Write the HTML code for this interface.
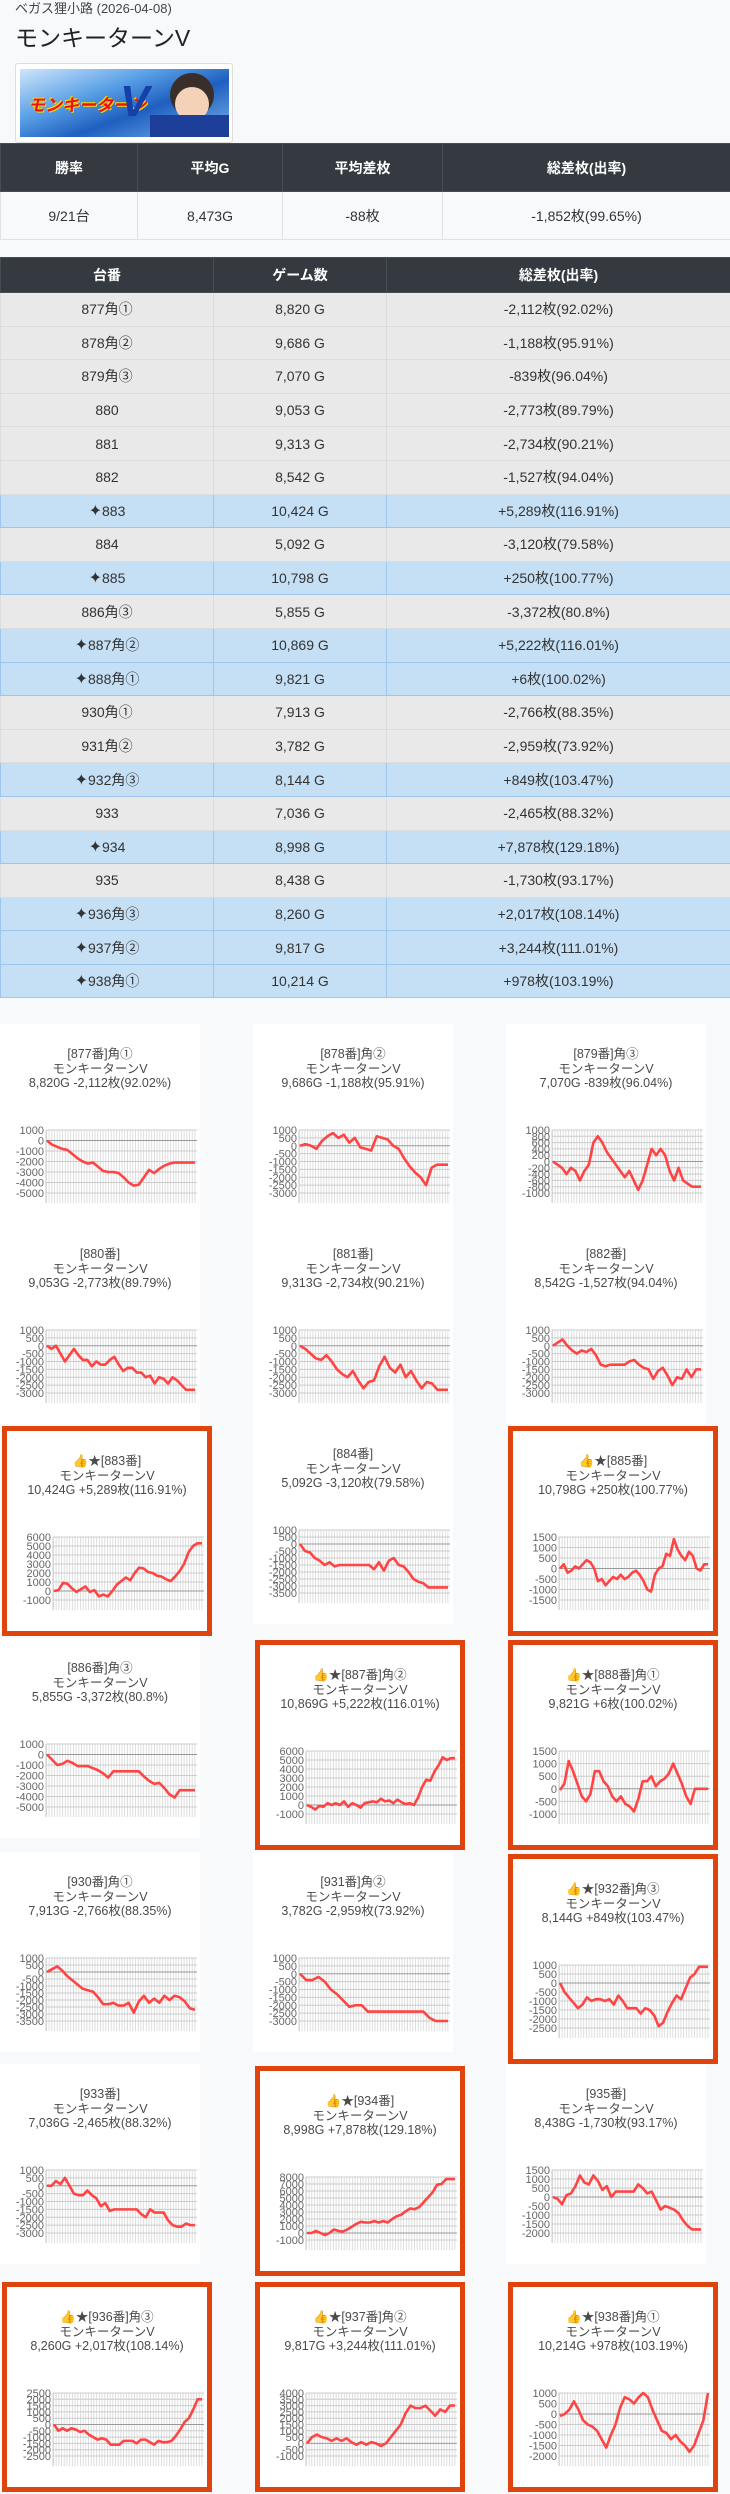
<!DOCTYPE html>
<html><head><meta charset="utf-8">
<style>
*{margin:0;padding:0;box-sizing:content-box}
body{width:730px;height:2494px;background:#f8f9fa;position:relative;font-family:"Liberation Sans","Noto Sans CJK JP",sans-serif;color:#333;overflow:hidden}
.sub{position:absolute;left:15px;top:0;font-size:13px;color:#444;line-height:17px}
.ttl{position:absolute;left:15px;top:22px;font-size:23px;color:#222;line-height:32px}
.img{position:absolute;left:15px;top:63px;width:216px;height:78px;border:1px solid #ddd;border-radius:3px;background:#fff}
.img .in{position:absolute;left:4px;top:5px;width:209px;height:68px;background:linear-gradient(160deg,#cfe6fb 0%,#5aa0e6 35%,#1e5fc0 60%,#7fb4ec 100%);overflow:hidden}
table{border-collapse:collapse;position:absolute;left:0;width:730px;table-layout:fixed}
th{background:#343a40;color:#fff;font-weight:bold;font-size:14px;border:1px solid #454d55}
td{text-align:center;font-size:14px;border:1px solid #dee2e6}
.g td{background:#e9e9e9;border-color:#dcdcdc}
.b td{background:#c5dff5;border-color:#9cc6ec}
.sp{font-size:16px}
.c{position:absolute;width:200px;height:200px;background:#fff}
.h{border:5px solid #e0440e}
.t{position:absolute;left:0;top:23px;width:200px;text-align:center;font-family:"Liberation Sans Narrow","Liberation Sans","Noto Sans CJK JP",sans-serif;font-size:12.5px;line-height:14.5px;color:#4a4a4a}
.c svg{position:absolute;left:0;top:100px}
.c text{font-family:"Liberation Sans",sans-serif;font-size:11px;fill:#666;text-anchor:end}
.ln{fill:none;stroke:#f44;stroke-width:2.6;vector-effect:non-scaling-stroke;stroke-linejoin:round}
</style></head><body>
<svg width="0" height="0" style="position:absolute"><defs><pattern id="vg" x="46" y="0" width="2.7" height="10" patternUnits="userSpaceOnUse"><rect x="0" y="0" width="0.8" height="10" fill="#d6d6d6"/></pattern></defs></svg>

<div class="sub">ベガス狸小路 (2026-04-08)</div>
<div class="ttl">モンキーターンV</div>
<div class="img"><div class="in">
<div style="position:absolute;left:8px;top:22px;font:bold italic 17px 'Noto Sans CJK JP',sans-serif;color:#e8141c;text-shadow:1px 1px 0 #ffd400,-1px -1px 0 #ffd400">モンキーターン</div>
<div style="position:absolute;left:100px;top:8px;font:bold italic 44px 'Liberation Sans',sans-serif;color:#1440a8">V</div>
<div style="position:absolute;left:150px;top:4px;width:44px;height:44px;border-radius:50%;background:#3a2e2a"></div>
<div style="position:absolute;left:155px;top:18px;width:34px;height:34px;border-radius:50%;background:#f3d2b8"></div>
<div style="position:absolute;left:130px;top:46px;width:80px;height:24px;background:#1d3f9a"></div>
</div></div>

<table style="top:143px">
<colgroup><col style="width:137px"><col style="width:145px"><col style="width:160px"><col style="width:288px"></colgroup>
<tr style="height:48px"><th>勝率</th><th>平均G</th><th>平均差枚</th><th>総差枚(出率)</th></tr>
<tr style="height:48px;background:#f8f9fa"><td>9/21台</td><td>8,473G</td><td>-88枚</td><td>-1,852枚(99.65%)</td></tr>
</table>

<table style="top:257px">
<colgroup><col style="width:213px"><col style="width:173px"><col style="width:344px"></colgroup>
<tr style="height:35px"><th>台番</th><th>ゲーム数</th><th>総差枚(出率)</th></tr>
<tr class="g" style="height:33.6px"><td>877角①</td><td>8,820 G</td><td>-2,112枚(92.02%)</td></tr>
<tr class="g" style="height:33.6px"><td>878角②</td><td>9,686 G</td><td>-1,188枚(95.91%)</td></tr>
<tr class="g" style="height:33.6px"><td>879角③</td><td>7,070 G</td><td>-839枚(96.04%)</td></tr>
<tr class="g" style="height:33.6px"><td>880</td><td>9,053 G</td><td>-2,773枚(89.79%)</td></tr>
<tr class="g" style="height:33.6px"><td>881</td><td>9,313 G</td><td>-2,734枚(90.21%)</td></tr>
<tr class="g" style="height:33.6px"><td>882</td><td>8,542 G</td><td>-1,527枚(94.04%)</td></tr>
<tr class="b" style="height:33.6px"><td><span class="sp">✦</span>883</td><td>10,424 G</td><td>+5,289枚(116.91%)</td></tr>
<tr class="g" style="height:33.6px"><td>884</td><td>5,092 G</td><td>-3,120枚(79.58%)</td></tr>
<tr class="b" style="height:33.6px"><td><span class="sp">✦</span>885</td><td>10,798 G</td><td>+250枚(100.77%)</td></tr>
<tr class="g" style="height:33.6px"><td>886角③</td><td>5,855 G</td><td>-3,372枚(80.8%)</td></tr>
<tr class="b" style="height:33.6px"><td><span class="sp">✦</span>887角②</td><td>10,869 G</td><td>+5,222枚(116.01%)</td></tr>
<tr class="b" style="height:33.6px"><td><span class="sp">✦</span>888角①</td><td>9,821 G</td><td>+6枚(100.02%)</td></tr>
<tr class="g" style="height:33.6px"><td>930角①</td><td>7,913 G</td><td>-2,766枚(88.35%)</td></tr>
<tr class="g" style="height:33.6px"><td>931角②</td><td>3,782 G</td><td>-2,959枚(73.92%)</td></tr>
<tr class="b" style="height:33.6px"><td><span class="sp">✦</span>932角③</td><td>8,144 G</td><td>+849枚(103.47%)</td></tr>
<tr class="g" style="height:33.6px"><td>933</td><td>7,036 G</td><td>-2,465枚(88.32%)</td></tr>
<tr class="b" style="height:33.6px"><td><span class="sp">✦</span>934</td><td>8,998 G</td><td>+7,878枚(129.18%)</td></tr>
<tr class="g" style="height:33.6px"><td>935</td><td>8,438 G</td><td>-1,730枚(93.17%)</td></tr>
<tr class="b" style="height:33.6px"><td><span class="sp">✦</span>936角③</td><td>8,260 G</td><td>+2,017枚(108.14%)</td></tr>
<tr class="b" style="height:33.6px"><td><span class="sp">✦</span>937角②</td><td>9,817 G</td><td>+3,244枚(111.01%)</td></tr>
<tr class="b" style="height:33.6px"><td><span class="sp">✦</span>938角①</td><td>10,214 G</td><td>+978枚(103.19%)</td></tr>
</table>

<!-- Row 1 -->
<div class="c" style="left:0;top:1024px"><div class="t">[877番]角①<br>モンキーターンV<br>8,820G -2,112枚(92.02%)</div>
<svg width="200" height="90"><rect x="46" y="6" width="151" height="73" fill="url(#vg)"/><path d="M46 6H197M46 27H197M46 37.5H197M46 48H197M46 58.5H197M46 69H197M46 6V79" stroke="#ccc" stroke-width="1"/><path d="M46 16.5H197" stroke="#999"/>
<text x="44" y="10">1000</text><text x="44" y="20.5">0</text><text x="44" y="31">-1000</text><text x="44" y="41.5">-2000</text><text x="44" y="52">-3000</text><text x="44" y="62.5">-4000</text><text x="44" y="73">-5000</text>
<g transform="translate(47 16.5) scale(5.103 -1.05)"><polyline class="ln" points="0,0 1,-4 2,-6 3,-8 4,-9 5,-13 6,-17 7,-20 8,-22 9,-21 10,-25 11,-29 12,-30 13,-30 14,-31 15,-35 16,-40 17,-43 18,-42 19,-35 20,-28 21,-31 22,-27 23,-24 24,-22 25,-21 26,-21 27,-21 28,-21 29,-21"/></g></svg></div>

<div class="c" style="left:253px;top:1024px"><div class="t">[878番]角②<br>モンキーターンV<br>9,686G -1,188枚(95.91%)</div>
<svg width="200" height="90"><rect x="46" y="6" width="151" height="73" fill="url(#vg)"/><path d="M46 6H197M46 13.9H197M46 29.6H197M46 37.5H197M46 45.4H197M46 53.25H197M46 61.1H197M46 69H197M46 6V79" stroke="#ccc"/><path d="M46 21.75H197" stroke="#999"/>
<text x="44" y="10">1000</text><text x="44" y="17.9">500</text><text x="44" y="25.75">0</text><text x="44" y="33.6">-500</text><text x="44" y="41.5">-1000</text><text x="44" y="49.4">-1500</text><text x="44" y="57.25">-2000</text><text x="44" y="65.1">-2500</text><text x="44" y="73">-3000</text>
<g transform="translate(47 21.75) scale(5.481 -1.575)"><polyline class="ln" points="0,0 1,1 2,0 3,-2 4,3 5,6 6,8 7,5 8,7 9,2 10,5 11,-1 12,-2 13,-3 14,6 15,5 16,4 17,0 18,-2 19,-8 20,-13 21,-17 22,-20 23,-25 24,-14 25,-12 26,-12 27,-12"/></g></svg></div>

<div class="c" style="left:506px;top:1024px"><div class="t">[879番]角③<br>モンキーターンV<br>7,070G -839枚(96.04%)</div>
<svg width="200" height="90"><rect x="46" y="6" width="151" height="73" fill="url(#vg)"/><path d="M46 6H197M46 12.3H197M46 18.6H197M46 24.9H197M46 31.2H197M46 43.8H197M46 50.1H197M46 56.4H197M46 62.7H197M46 69H197M46 6V79" stroke="#ccc"/><path d="M46 37.5H197" stroke="#999"/>
<text x="44" y="10">1000</text><text x="44" y="16.3">800</text><text x="44" y="22.6">600</text><text x="44" y="28.9">400</text><text x="44" y="35.2">200</text><text x="44" y="41.5">0</text><text x="44" y="47.8">-200</text><text x="44" y="54.1">-400</text><text x="44" y="60.4">-600</text><text x="44" y="66.7">-800</text><text x="44" y="73">-1000</text>
<g transform="translate(47 37.5) scale(4.485 -3.15)"><polyline class="ln" points="0,0 1,-1 2,-2 3,-4 4,-2 5,-3 6,-6 7,-3 8,-1 9,6 10,8 11,6 12,3 13,1 14,-1 15,-3 16,-5 17,-3 18,-6 19,-9 20,-6 21,-1 22,4 23,2 24,4 25,2 26,-3 27,-6 28,-2 29,-6 30,-7 31,-8 32,-8 33,-8"/></g></svg></div>

<!-- Row 2 -->
<div class="c" style="left:0;top:1224px"><div class="t">[880番]<br>モンキーターンV<br>9,053G -2,773枚(89.79%)</div>
<svg width="200" height="90"><rect x="46" y="6" width="151" height="73" fill="url(#vg)"/><path d="M46 6H197M46 13.9H197M46 29.6H197M46 37.5H197M46 45.4H197M46 53.25H197M46 61.1H197M46 69H197M46 6V79" stroke="#ccc"/><path d="M46 21.75H197" stroke="#999"/>
<text x="44" y="10">1000</text><text x="44" y="17.9">500</text><text x="44" y="25.75">0</text><text x="44" y="33.6">-500</text><text x="44" y="41.5">-1000</text><text x="44" y="49.4">-1500</text><text x="44" y="57.25">-2000</text><text x="44" y="65.1">-2500</text><text x="44" y="73">-3000</text>
<g transform="translate(47 21.75) scale(4.485 -1.575)"><polyline class="ln" points="0,0 1,-2 2,0 3,-5 4,-10 5,-6 6,-2 7,-6 8,-9 9,-9 10,-13 11,-10 12,-12 13,-12 14,-9 15,-7 16,-12 17,-16 18,-14 19,-14 20,-17 21,-17 22,-20 23,-19 24,-24 25,-20 26,-21 27,-24 28,-20 29,-22 30,-25 31,-28 32,-28 33,-28"/></g></svg></div>

<div class="c" style="left:253px;top:1224px"><div class="t">[881番]<br>モンキーターンV<br>9,313G -2,734枚(90.21%)</div>
<svg width="200" height="90"><rect x="46" y="6" width="151" height="73" fill="url(#vg)"/><path d="M46 6H197M46 13.9H197M46 29.6H197M46 37.5H197M46 45.4H197M46 53.25H197M46 61.1H197M46 69H197M46 6V79" stroke="#ccc"/><path d="M46 21.75H197" stroke="#999"/>
<text x="44" y="10">1000</text><text x="44" y="17.9">500</text><text x="44" y="25.75">0</text><text x="44" y="33.6">-500</text><text x="44" y="41.5">-1000</text><text x="44" y="49.4">-1500</text><text x="44" y="57.25">-2000</text><text x="44" y="65.1">-2500</text><text x="44" y="73">-3000</text>
<g transform="translate(47 21.75) scale(5.286 -1.575)"><polyline class="ln" points="0,0 1,-2 2,-5 3,-8 4,-9 5,-6 6,-10 7,-15 8,-18 9,-20 10,-16 11,-22 12,-27 13,-23 14,-22 15,-13 16,-7 17,-14 18,-17 19,-12 20,-20 21,-16 22,-22 23,-27 24,-23 25,-24 26,-28 27,-28 28,-28"/></g></svg></div>

<div class="c" style="left:506px;top:1224px"><div class="t">[882番]<br>モンキーターンV<br>8,542G -1,527枚(94.04%)</div>
<svg width="200" height="90"><rect x="46" y="6" width="151" height="73" fill="url(#vg)"/><path d="M46 6H197M46 13.9H197M46 29.6H197M46 37.5H197M46 45.4H197M46 53.25H197M46 61.1H197M46 69H197M46 6V79" stroke="#ccc"/><path d="M46 21.75H197" stroke="#999"/>
<text x="44" y="10">1000</text><text x="44" y="17.9">500</text><text x="44" y="25.75">0</text><text x="44" y="33.6">-500</text><text x="44" y="41.5">-1000</text><text x="44" y="49.4">-1500</text><text x="44" y="57.25">-2000</text><text x="44" y="65.1">-2500</text><text x="44" y="73">-3000</text>
<g transform="translate(47 21.75) scale(4.774 -1.575)"><polyline class="ln" points="0,0 1,2 2,4 3,0 4,-3 5,-5 6,-3 7,-4 8,-2 9,-6 10,-12 11,-13 12,-12 13,-12 14,-12 15,-12 16,-10 17,-9 18,-12 19,-14 20,-15 21,-21 22,-16 23,-14 24,-19 25,-25 26,-20 27,-21 28,-15 29,-20 30,-15 31,-15"/></g></svg></div>

<!-- Row 3 -->
<div class="c h" style="left:2px;top:1426px"><div class="t">👍★[883番]<br>モンキーターンV<br>10,424G +5,289枚(116.91%)</div>
<svg width="200" height="90"><rect x="46" y="6" width="151" height="73" fill="url(#vg)"/><path d="M46 6H197M46 15H197M46 24H197M46 33H197M46 42H197M46 51H197M46 69H197M46 6V79" stroke="#ccc"/><path d="M46 60H197" stroke="#999"/>
<text x="44" y="10">6000</text><text x="44" y="19">5000</text><text x="44" y="28">4000</text><text x="44" y="37">3000</text><text x="44" y="46">2000</text><text x="44" y="55">1000</text><text x="44" y="64">0</text><text x="44" y="73">-1000</text>
<g transform="translate(47 60) scale(4.485 -0.9)"><polyline class="ln" points="0,0 1,1 2,9 3,8 4,3 5,-1 6,2 7,5 8,-1 9,1 10,-6 11,-4 12,-6 13,0 14,7 15,11 16,15 17,12 18,20 19,26 20,25 21,21 22,20 23,17 24,16 25,13 26,11 27,16 28,22 29,30 30,43 31,50 32,53 33,53"/></g></svg></div>

<div class="c" style="left:253px;top:1424px"><div class="t">[884番]<br>モンキーターンV<br>5,092G -3,120枚(79.58%)</div>
<svg width="200" height="90"><rect x="46" y="6" width="151" height="73" fill="url(#vg)"/><path d="M46 6H197M46 13H197M46 27H197M46 34H197M46 41H197M46 48H197M46 55H197M46 62H197M46 69H197M46 6V79" stroke="#ccc"/><path d="M46 20H197" stroke="#999"/>
<text x="44" y="10">1000</text><text x="44" y="17">500</text><text x="44" y="24">0</text><text x="44" y="31">-500</text><text x="44" y="38">-1000</text><text x="44" y="45">-1500</text><text x="44" y="52">-2000</text><text x="44" y="59">-2500</text><text x="44" y="66">-3000</text><text x="44" y="73">-3500</text>
<g transform="translate(47 20) scale(4.933 -1.4)"><polyline class="ln" points="0,0 1,-5 2,-6 3,-10 4,-12 5,-15 6,-13 7,-16 8,-15 9,-15 10,-15 11,-15 12,-15 13,-15 14,-15 15,-18 16,-13 17,-19 18,-12 19,-10 20,-15 21,-16 22,-20 23,-25 24,-27 25,-28 26,-31 27,-31 28,-31 29,-31 30,-31"/></g></svg></div>

<div class="c h" style="left:508px;top:1426px"><div class="t">👍★[885番]<br>モンキーターンV<br>10,798G +250枚(100.77%)</div>
<svg width="200" height="90"><rect x="46" y="6" width="151" height="73" fill="url(#vg)"/><path d="M46 6H197M46 16.5H197M46 27H197M46 48H197M46 58.5H197M46 69H197M46 6V79" stroke="#ccc"/><path d="M46 37.5H197" stroke="#999"/>
<text x="44" y="10">1500</text><text x="44" y="20.5">1000</text><text x="44" y="31">500</text><text x="44" y="41.5">0</text><text x="44" y="52">-500</text><text x="44" y="62.5">-1000</text><text x="44" y="73">-1500</text>
<g transform="translate(47 37.5) scale(3.795 -2.1)"><polyline class="ln" points="0,0 1,2 2,-2 3,-1 4,1 5,0 6,2 7,4 8,3 9,0 10,-6 11,-5 12,-8 13,-6 14,-4 15,-5 16,-3 17,-5 18,-4 19,-2 20,-1 21,-3 22,-6 23,-10 24,-11 25,-3 26,0 27,1 28,7 29,6 30,14 31,9 32,6 33,4 34,8 35,6 36,0 37,-1 38,2 39,2"/></g></svg></div>

<!-- Row 4 -->
<div class="c" style="left:0;top:1638px"><div class="t">[886番]角③<br>モンキーターンV<br>5,855G -3,372枚(80.8%)</div>
<svg width="200" height="90"><rect x="46" y="6" width="151" height="73" fill="url(#vg)"/><path d="M46 6H197M46 27H197M46 37.5H197M46 48H197M46 58.5H197M46 69H197M46 6V79" stroke="#ccc"/><path d="M46 16.5H197" stroke="#999"/>
<text x="44" y="10">1000</text><text x="44" y="20.5">0</text><text x="44" y="31">-1000</text><text x="44" y="41.5">-2000</text><text x="44" y="52">-3000</text><text x="44" y="62.5">-4000</text><text x="44" y="73">-5000</text>
<g transform="translate(47 16.5) scale(5.103 -1.05)"><polyline class="ln" points="0,0 1,-5 2,-10 3,-9 4,-6 5,-8 6,-11 7,-11 8,-11 9,-13 10,-15 11,-18 12,-22 13,-16 14,-16 15,-16 16,-16 17,-16 18,-16 19,-21 20,-25 21,-28 22,-27 23,-32 24,-38 25,-41 26,-34 27,-34 28,-34 29,-34"/></g></svg></div>

<div class="c h" style="left:255px;top:1640px"><div class="t">👍★[887番]角②<br>モンキーターンV<br>10,869G +5,222枚(116.01%)</div>
<svg width="200" height="90"><rect x="46" y="6" width="151" height="73" fill="url(#vg)"/><path d="M46 6H197M46 15H197M46 24H197M46 33H197M46 42H197M46 51H197M46 69H197M46 6V79" stroke="#ccc"/><path d="M46 60H197" stroke="#999"/>
<text x="44" y="10">6000</text><text x="44" y="19">5000</text><text x="44" y="28">4000</text><text x="44" y="37">3000</text><text x="44" y="46">2000</text><text x="44" y="55">1000</text><text x="44" y="64">0</text><text x="44" y="73">-1000</text>
<g transform="translate(47 60) scale(4.111 -0.9)"><polyline class="ln" points="0,0 1,-2 2,-5 3,-1 4,-2 5,2 6,0 7,2 8,0 9,4 10,-2 11,2 12,0 13,-3 14,2 15,3 16,4 17,3 18,7 19,4 20,5 21,2 22,6 23,3 24,1 25,2 26,0 27,8 28,20 29,28 30,27 31,37 32,44 33,53 34,50 35,52 36,52"/></g></svg></div>

<div class="c h" style="left:508px;top:1640px"><div class="t">👍★[888番]角①<br>モンキーターンV<br>9,821G +6枚(100.02%)</div>
<svg width="200" height="90"><rect x="46" y="6" width="151" height="73" fill="url(#vg)"/><path d="M46 6H197M46 18.6H197M46 31.2H197M46 56.4H197M46 69H197M46 6V79" stroke="#ccc"/><path d="M46 43.8H197" stroke="#999"/>
<text x="44" y="10">1500</text><text x="44" y="22.6">1000</text><text x="44" y="35.2">500</text><text x="44" y="47.8">0</text><text x="44" y="60.4">-500</text><text x="44" y="73">-1000</text>
<g transform="translate(47 43.8) scale(4.353 -2.52)"><polyline class="ln" points="0,-0.5 1,2 2,11 3,7 4,2 5,-3 6,-5 7,-2 8,7 9,7 10,3 11,1 12,-3 13,-5 14,-3 15,-6 16,-7 17,-9 18,-4 19,3 20,3 21,5 22,1 23,3 24,4 25,6 26,10 27,6 28,2 29,-3 30,-6 31,0 32,0 33,0 34,0"/></g></svg></div>

<!-- Row 5 -->
<div class="c" style="left:0;top:1852px"><div class="t">[930番]角①<br>モンキーターンV<br>7,913G -2,766枚(88.35%)</div>
<svg width="200" height="90"><rect x="46" y="6" width="151" height="73" fill="url(#vg)"/><path d="M46 6H197M46 13H197M46 27H197M46 34H197M46 41H197M46 48H197M46 55H197M46 62H197M46 69H197M46 6V79" stroke="#ccc"/><path d="M46 20H197" stroke="#999"/>
<text x="44" y="10">1000</text><text x="44" y="17">500</text><text x="44" y="24">0</text><text x="44" y="31">-500</text><text x="44" y="38">-1000</text><text x="44" y="45">-1500</text><text x="44" y="52">-2000</text><text x="44" y="59">-2500</text><text x="44" y="66">-3000</text><text x="44" y="73">-3500</text>
<g transform="translate(47 20) scale(5.103 -1.4)"><polyline class="ln" points="0,0 1,2 2,4 3,1 4,-3 5,-6 6,-9 7,-12 8,-13 9,-14 10,-18 11,-23 12,-23 13,-22 14,-24 15,-24 16,-22 17,-29 18,-21 19,-17 20,-22 21,-19 22,-22 23,-17 24,-20 25,-17 26,-18 27,-21 28,-26 29,-27"/></g></svg></div>

<div class="c" style="left:253px;top:1852px"><div class="t">[931番]角②<br>モンキーターンV<br>3,782G -2,959枚(73.92%)</div>
<svg width="200" height="90"><rect x="46" y="6" width="151" height="73" fill="url(#vg)"/><path d="M46 6H197M46 13.9H197M46 29.6H197M46 37.5H197M46 45.4H197M46 53.25H197M46 61.1H197M46 69H197M46 6V79" stroke="#ccc"/><path d="M46 21.75H197" stroke="#999"/>
<text x="44" y="10">1000</text><text x="44" y="17.9">500</text><text x="44" y="25.75">0</text><text x="44" y="33.6">-500</text><text x="44" y="41.5">-1000</text><text x="44" y="49.4">-1500</text><text x="44" y="57.25">-2000</text><text x="44" y="65.1">-2500</text><text x="44" y="73">-3000</text>
<g transform="translate(47 21.75) scale(6.167 -1.575)"><polyline class="ln" points="0,0 1,-4 2,-4 3,-2 4,-5 5,-10 6,-13 7,-17 8,-21 9,-20 10,-20 11,-24 12,-24 13,-24 14,-24 15,-24 16,-24 17,-24 18,-24 19,-24 20,-24 21,-28 22,-30 23,-30 24,-30"/></g></svg></div>

<div class="c h" style="left:508px;top:1854px"><div class="t">👍★[932番]角③<br>モンキーターンV<br>8,144G +849枚(103.47%)</div>
<svg width="200" height="90"><rect x="46" y="6" width="151" height="73" fill="url(#vg)"/><path d="M46 6H197M46 15H197M46 33H197M46 42H197M46 51H197M46 60H197M46 69H197M46 6V79" stroke="#ccc"/><path d="M46 24H197" stroke="#999"/>
<text x="44" y="10">1000</text><text x="44" y="19">500</text><text x="44" y="28">0</text><text x="44" y="37">-500</text><text x="44" y="46">-1000</text><text x="44" y="55">-1500</text><text x="44" y="64">-2000</text><text x="44" y="73">-2500</text>
<g transform="translate(47 24) scale(4.485 -1.8)"><polyline class="ln" points="0,0 1,-5 2,-8 3,-11 4,-14 5,-12 6,-8 7,-10 8,-9 9,-9 10,-10 11,-9 12,-12 13,-7 14,-10 15,-14 16,-14 17,-14 18,-17 19,-14 20,-15 21,-18 22,-24 23,-22 24,-16 25,-11 26,-7 27,-9 28,-3 29,3 30,5 31,9 32,9 33,9"/></g></svg></div>

<!-- Row 6 -->
<div class="c" style="left:0;top:2064px"><div class="t">[933番]<br>モンキーターンV<br>7,036G -2,465枚(88.32%)</div>
<svg width="200" height="90"><rect x="46" y="6" width="151" height="73" fill="url(#vg)"/><path d="M46 6H197M46 13.9H197M46 29.6H197M46 37.5H197M46 45.4H197M46 53.25H197M46 61.1H197M46 69H197M46 6V79" stroke="#ccc"/><path d="M46 21.75H197" stroke="#999"/>
<text x="44" y="10">1000</text><text x="44" y="17.9">500</text><text x="44" y="25.75">0</text><text x="44" y="33.6">-500</text><text x="44" y="41.5">-1000</text><text x="44" y="49.4">-1500</text><text x="44" y="57.25">-2000</text><text x="44" y="65.1">-2500</text><text x="44" y="73">-3000</text>
<g transform="translate(47 21.75) scale(4.485 -1.575)"><polyline class="ln" points="0,0 1,0 2,3 3,1 4,5 5,0 6,-5 7,-6 8,-6 9,-3 10,-6 11,-8 12,-13 13,-11 14,-16 15,-15 16,-15 17,-15 18,-15 19,-15 20,-15 21,-18 22,-20 23,-15 24,-17 25,-17 26,-17 27,-22 28,-25 29,-26 30,-26 31,-24 32,-25 33,-25"/></g></svg></div>

<div class="c h" style="left:255px;top:2066px"><div class="t">👍★[934番]<br>モンキーターンV<br>8,998G +7,878枚(129.18%)</div>
<svg width="200" height="90"><rect x="46" y="6" width="151" height="73" fill="url(#vg)"/><path d="M46 6H197M46 13H197M46 20H197M46 27H197M46 34H197M46 41H197M46 48H197M46 55H197M46 69H197M46 6V79" stroke="#ccc"/><path d="M46 62H197" stroke="#999"/>
<text x="44" y="10">8000</text><text x="44" y="17">7000</text><text x="44" y="24">6000</text><text x="44" y="31">5000</text><text x="44" y="38">4000</text><text x="44" y="45">3000</text><text x="44" y="52">2000</text><text x="44" y="59">1000</text><text x="44" y="66">0</text><text x="44" y="73">-1000</text>
<g transform="translate(47 62) scale(4.485 -0.7)"><polyline class="ln" points="0,0 1,0 2,3 3,0 4,-3 5,0 6,5 7,3 8,2 9,5 10,9 11,13 12,16 13,15 14,15 15,17 16,15 17,17 18,15 19,20 20,24 21,26 22,31 23,35 24,34 25,37 26,44 27,51 28,58 29,69 30,70 31,77 32,77 33,77"/></g></svg></div>

<div class="c" style="left:506px;top:2064px"><div class="t">[935番]<br>モンキーターンV<br>8,438G -1,730枚(93.17%)</div>
<svg width="200" height="90"><rect x="46" y="6" width="151" height="73" fill="url(#vg)"/><path d="M46 6H197M46 15H197M46 24H197M46 42H197M46 51H197M46 60H197M46 69H197M46 6V79" stroke="#ccc"/><path d="M46 33H197" stroke="#999"/>
<text x="44" y="10">1500</text><text x="44" y="19">1000</text><text x="44" y="28">500</text><text x="44" y="37">0</text><text x="44" y="46">-500</text><text x="44" y="55">-1000</text><text x="44" y="64">-1500</text><text x="44" y="73">-2000</text>
<g transform="translate(47 33) scale(4.485 -1.8)"><polyline class="ln" points="0,0 1,-1 2,-4 3,1 4,2 5,6 6,12 7,8 8,7 9,12 10,9 11,4 12,6 13,0 14,3 15,3 16,3 17,3 18,3 19,7 20,5 21,2 22,3 23,-2 24,-7 25,-5 26,-6 27,-7 28,-9 29,-13 30,-16 31,-18 32,-18 33,-18"/></g></svg></div>

<!-- Row 7 -->
<div class="c h" style="left:2px;top:2282px"><div class="t">👍★[936番]角③<br>モンキーターンV<br>8,260G +2,017枚(108.14%)</div>
<svg width="200" height="90"><rect x="46" y="6" width="151" height="73" fill="url(#vg)"/><path d="M46 6H197M46 12.3H197M46 18.6H197M46 24.9H197M46 31.2H197M46 43.8H197M46 50.1H197M46 56.4H197M46 62.7H197M46 69H197M46 6V79" stroke="#ccc"/><path d="M46 37.5H197" stroke="#999"/>
<text x="44" y="10">2500</text><text x="44" y="16.3">2000</text><text x="44" y="22.6">1500</text><text x="44" y="28.9">1000</text><text x="44" y="35.2">500</text><text x="44" y="41.5">0</text><text x="44" y="47.8">-500</text><text x="44" y="54.1">-1000</text><text x="44" y="60.4">-1500</text><text x="44" y="66.7">-2000</text><text x="44" y="73">-2500</text>
<g transform="translate(47 37.5) scale(4.353 -1.26)"><polyline class="ln" points="0,0 1,-5 2,-3 3,-5 4,-3 5,-4 6,-6 7,-5 8,-8 9,-10 10,-12 11,-11 12,-12 13,-16 14,-16 15,-16 16,-13 17,-13 18,-13 19,-15 20,-12 21,-12 22,-14 23,-16 24,-13 25,-14 26,-14 27,-13 28,-9 29,-4 30,2 31,5 32,12 33,20 34,20"/></g></svg></div>

<div class="c h" style="left:255px;top:2282px"><div class="t">👍★[937番]角②<br>モンキーターンV<br>9,817G +3,244枚(111.01%)</div>
<svg width="200" height="90"><rect x="46" y="6" width="151" height="73" fill="url(#vg)"/><path d="M46 6H197M46 12.3H197M46 18.6H197M46 24.9H197M46 31.2H197M46 37.5H197M46 43.8H197M46 50.1H197M46 62.7H197M46 69H197M46 6V79" stroke="#ccc"/><path d="M46 56.4H197" stroke="#999"/>
<text x="44" y="10">4000</text><text x="44" y="16.3">3500</text><text x="44" y="22.6">3000</text><text x="44" y="28.9">2500</text><text x="44" y="35.2">2000</text><text x="44" y="41.5">1500</text><text x="44" y="47.8">1000</text><text x="44" y="54.1">500</text><text x="44" y="60.4">0</text><text x="44" y="66.7">-500</text><text x="44" y="73">-1000</text>
<g transform="translate(47 56.4) scale(4.933 -1.26)"><polyline class="ln" points="0,0 1,5 2,7 3,5 4,4 5,2 6,4 7,2 8,4 9,1 10,-1 11,1 12,-1 13,1 14,0 15,-2 16,0 17,5 18,10 19,15 20,24 21,30 22,28 23,28 24,30 25,26 26,22 27,27 28,25 29,30 30,30"/></g></svg></div>

<div class="c h" style="left:508px;top:2282px"><div class="t">👍★[938番]角①<br>モンキーターンV<br>10,214G +978枚(103.19%)</div>
<svg width="200" height="90"><rect x="46" y="6" width="151" height="73" fill="url(#vg)"/><path d="M46 6H197M46 16.5H197M46 37.5H197M46 48H197M46 58.5H197M46 69H197M46 6V79" stroke="#ccc"/><path d="M46 27H197" stroke="#999"/>
<text x="44" y="10">1000</text><text x="44" y="20.5">500</text><text x="44" y="31">0</text><text x="44" y="41.5">-500</text><text x="44" y="52">-1000</text><text x="44" y="62.5">-1500</text><text x="44" y="73">-2000</text>
<g transform="translate(47 27) scale(4.625 -2.1)"><polyline class="ln" points="0,-1 1,0 2,2 3,6 4,2 5,-3 6,-5 7,-6 8,-8 9,-12 10,-16 11,-10 12,-5 13,3 14,8 15,7 16,5 17,8 18,10 19,8 20,2 21,-3 22,-8 23,-9 24,-12 25,-10 26,-13 27,-15 28,-18 29,-15 30,-9 31,-3 32,10"/></g></svg></div>

</body></html>
